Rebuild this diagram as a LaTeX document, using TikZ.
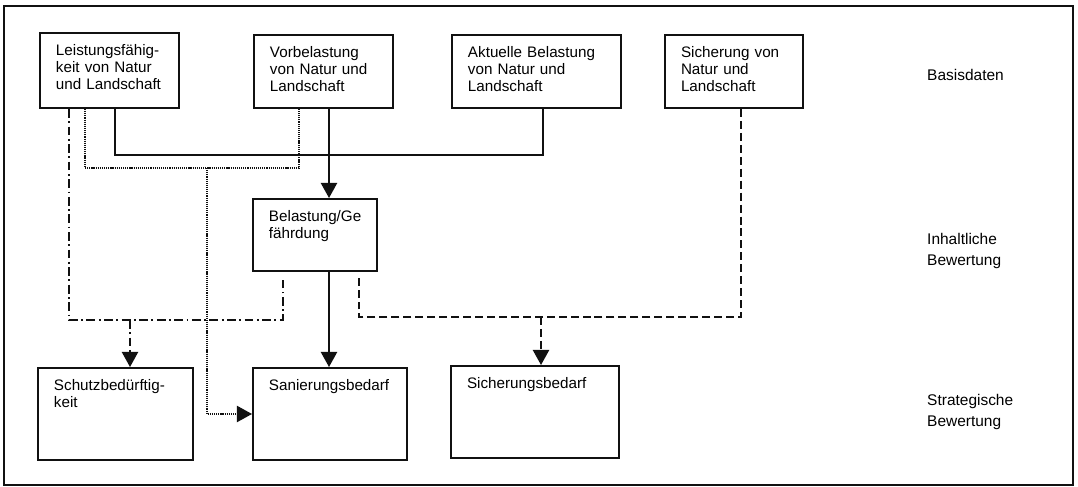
\documentclass[tikz,border=0pt]{standalone}
\usepackage{fontspec}
\setmainfont{Liberation Sans}
\usetikzlibrary{arrows.meta,positioning}
\definecolor{ScanInk}{HTML}{111111}
\tikzset{
  stufenbox/.style={draw=ScanInk,line width=1.7pt,anchor=north west,align=left,inner xsep=0.48cm,inner ysep=0pt,text height=0.69cm,font=\fontsize{13pt}{14.25pt}\selectfont},
  ebenentext/.style={anchor=west,align=left,inner sep=0pt,font=\fontsize{13.2pt}{18pt}\selectfont},
  volllinie/.style={line width=1.5pt,draw=ScanInk},
  punktlinie/.style={line width=1.3pt,draw=ScanInk,dash pattern=on 1pt off 0.8pt},
  strichpunktlinie/.style={line width=1.5pt,draw=ScanInk,dash pattern=on 7.5pt off 3pt on 1.5pt off 3pt},
  strichlinie/.style={line width=1.5pt,draw=ScanInk,dash pattern=on 6.8pt off 3.4pt},
  spitze/.style={-{Triangle[length=13pt,width=14pt]}}
}
\begin{document}
\begin{tikzpicture}[x=0.03cm,y=-0.03cm]
\useasboundingbox (0,0) rectangle (1078,487);
\draw[line width=0.9pt,draw=ScanInk] (4,6) rectangle (1073,485);
% Basisdaten
\node[stufenbox,text width=3.21cm,text depth=1.56cm] (leist) at (39,32) {Leistungsfähig-\\keit von Natur\\und Landschaft};
\node[stufenbox,text width=3.21cm,text depth=1.50cm] (vorbel) at (253,34) {Vorbelastung\\von Natur und\\Landschaft};
\node[stufenbox,text width=4.11cm,text depth=1.50cm] (aktuell) at (451,34) {Aktuelle Belastung\\von Natur und\\Landschaft};
\node[stufenbox,text width=3.18cm,text depth=1.50cm] (sicherung) at (664,34) {Sicherung von\\Natur und\\Landschaft};
% inhaltliche und strategische Bewertung
\node[stufenbox,text width=2.76cm,text depth=1.47cm] (bel) at (252,198) {Belastung/Ge\\fährdung};
\node[stufenbox,text width=3.69cm,text depth=2.07cm] (schutz) at (37,367) {Schutzbedürftig-\\keit};
\node[stufenbox,text width=3.66cm,text depth=2.07cm] (sanierung) at (252,367) {Sanierungsbedarf};
\node[stufenbox,text width=4.08cm,text depth=2.07cm] (bedarf) at (450,365) {Sicherungsbedarf};
\node[ebenentext] (basis) at (927,75) {Basisdaten};
\node[ebenentext] (inhalt) at (927,251) {Inhaltliche\\Bewertung};
\node[ebenentext] (strategie) at (927,412) {Strategische\\Bewertung};
% Verbindungen
\coordinate (mitte) at (329,153);
\coordinate (punkt) at (207,168);
\coordinate (strich) at (130,320);
\coordinate (strichel) at (541,317);
\draw[volllinie] ([xshift=2.28cm]leist.south west) -- ++(0,46) -| ([xshift=2.76cm]aktuell.south west);
\draw[volllinie,spitze] (vorbel.south -| mitte) -- (bel.north -| mitte);
\draw[volllinie,spitze] (bel.south -| mitte) -- (sanierung.north -| mitte);
\draw[punktlinie] ([xshift=1.38cm]leist.south west) |- (punkt) -| ([xshift=1.38cm]vorbel.south west);
\draw[punktlinie,spitze] (punkt) |- (sanierung.west);
\draw[strichpunktlinie] ([xshift=0.9cm]leist.south west) |- (strich) -| ([xshift=0.93cm,yshift=-0.24cm]bel.south west);
\draw[strichpunktlinie,spitze] (strich) -- (schutz.north -| strich);
\draw[strichlinie] ([xshift=2.31cm]sicherung.south west) |- (strichel) -| ([xshift=3.21cm,yshift=-0.12cm]bel.south west);
\draw[strichlinie,spitze] (strichel) -- (bedarf.north -| strichel);
\end{tikzpicture}
\end{document}
